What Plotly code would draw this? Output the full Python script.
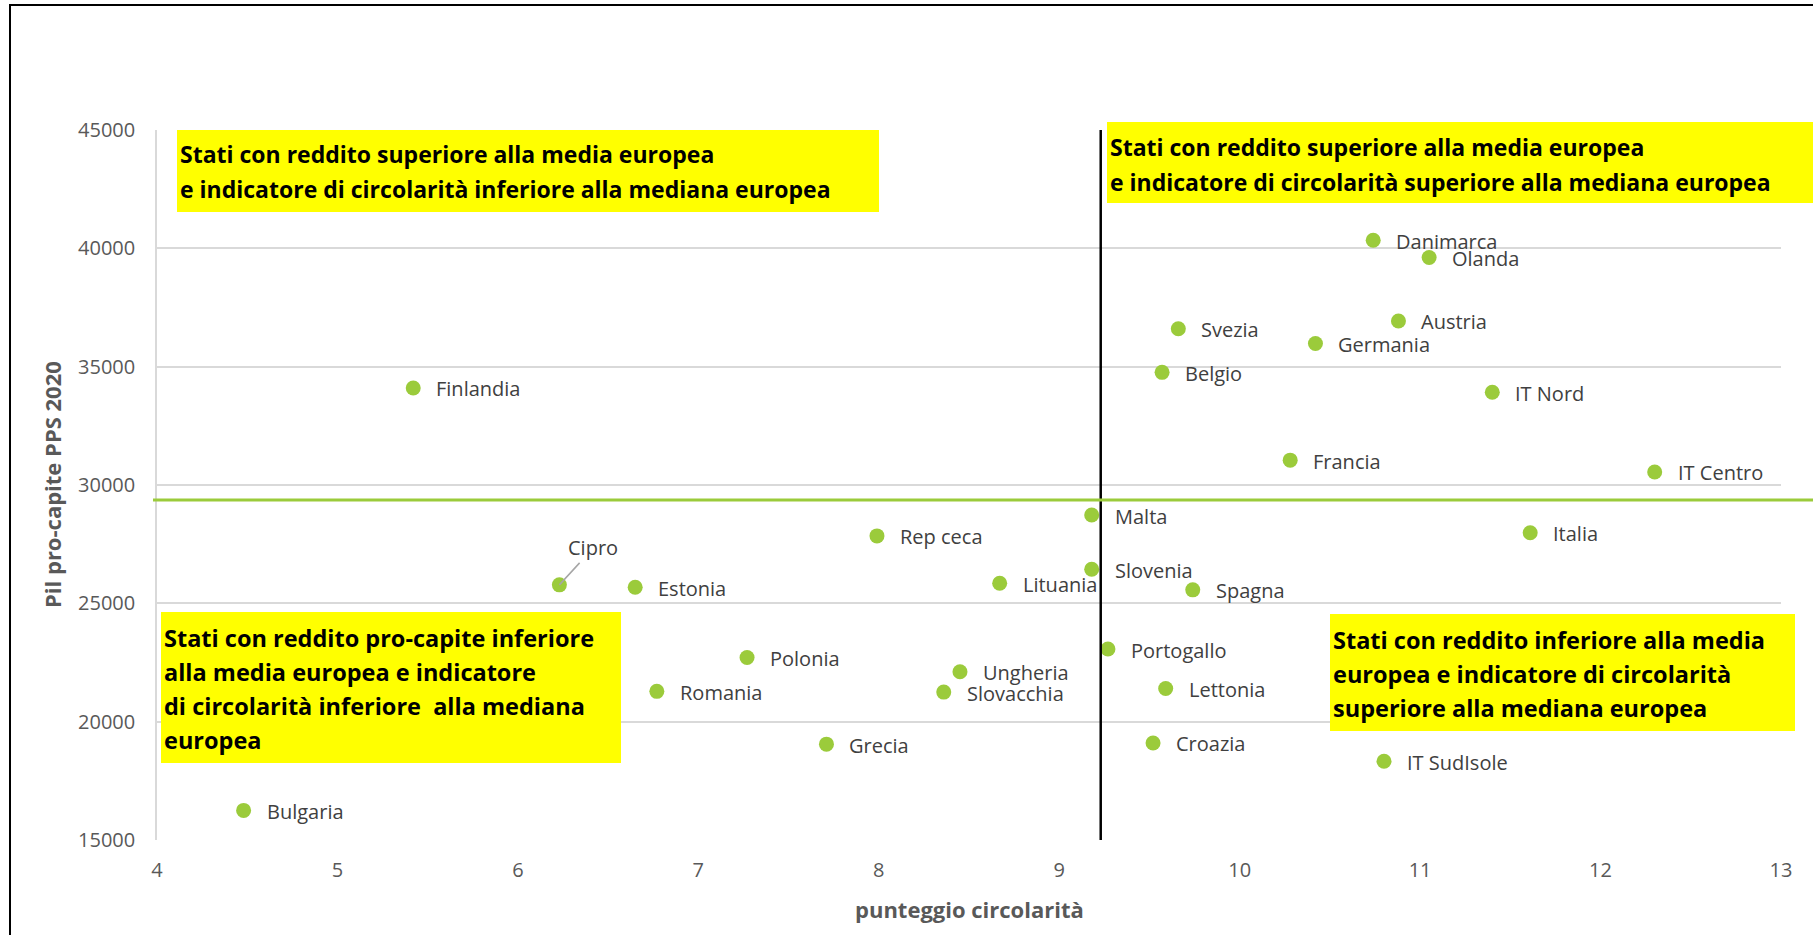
import plotly.graph_objects as go

# ---------------- data ----------------
countries = ["Danimarca", "Olanda", "Austria", "Svezia", "Germania", "Belgio", "IT Nord",
             "Finlandia", "Francia", "IT Centro", "Malta", "Italia", "Rep ceca", "Slovenia",
             "Cipro", "Estonia", "Lituania", "Spagna", "Portogallo", "Polonia", "Ungheria",
             "Romania", "Slovacchia", "Lettonia", "Grecia", "Croazia", "IT SudIsole", "Bulgaria"]
circolarita = [10.74, 11.05, 10.88, 9.66, 10.42, 9.57, 11.40,
               5.42, 10.28, 12.30, 9.18, 11.61, 7.99, 9.18,
               6.23, 6.65, 8.67, 9.74, 9.27, 7.27, 8.45,
               6.77, 8.36, 9.59, 7.71, 9.52, 10.80, 4.48]
pil = [40340, 39610, 36930, 36600, 35980, 34760, 33920,
       34100, 31050, 30550, 28730, 27980, 27850, 26440,
       25780, 25680, 25850, 25570, 23070, 22710, 22110,
       21280, 21250, 21400, 19050, 19100, 18330, 16250]

mediana_circolarita = 9.23
media_pil = 29370

x_ticks = [4, 5, 6, 7, 8, 9, 10, 11, 12, 13]
y_ticks = [15000, 20000, 25000, 30000, 35000, 40000, 45000]

box_top_left = ["Stati con reddito superiore alla media europea",
                "e indicatore di circolarità inferiore alla mediana europea"]
box_top_right = ["Stati con reddito superiore alla media europea",
                 "e indicatore di circolarità superiore alla mediana europea"]
box_bottom_left = ["Stati con reddito pro-capite inferiore",
                   "alla media europea e indicatore",
                   "di circolarità inferiore  alla mediana",
                   "europea"]
box_bottom_right = ["Stati con reddito inferiore alla media",
                    "europea e indicatore di circolarità",
                    "superiore alla mediana europea"]

# ---------------- layout geometry ----------------
FW, FH = 1813, 935
ML, MR, MT, MB = 157, 32, 130, 95
PW = FW - ML - MR
PH = FH - MT - MB
X_RANGE = [x_ticks[0], x_ticks[-1]]
Y_RANGE = [y_ticks[0], y_ticks[-1]]


def px_x(px):
    return (px - ML) / PW


def px_y(py):
    return (FH - MB - py) / PH


GREEN = "#9BCB3B"
LABEL_COL = "#404040"
AXIS_COL = "#595959"
GRID_COL = "#D9D9D9"
YELLOW = "#FFFF00"
FONT = "Open Sans, Noto Sans, DejaVu Sans, sans-serif"

fig = go.Figure()
fig.add_trace(go.Scatter(
    x=circolarita, y=pil, mode="markers",
    marker=dict(size=15, color=GREEN, line=dict(width=0)),
    cliponaxis=False, hoverinfo="text", text=countries, showlegend=False,
))

annotations = []
for name, xv, yv in zip(countries, circolarita, pil):
    if name == "Cipro":
        annotations.append(dict(
            x=xv, y=yv, xref="x", yref="y", text=name, showarrow=True,
            arrowhead=0, arrowwidth=1.5, arrowcolor="#A6A6A6", ax=34, ay=-37,
            standoff=0, font=dict(family=FONT, size=20, color=LABEL_COL)))
    else:
        annotations.append(dict(
            x=xv, y=yv, xref="x", yref="y", text=name, showarrow=False,
            xanchor="left", yanchor="middle", xshift=21, yshift=-1,
            font=dict(family=FONT, size=20, color=LABEL_COL)))

shapes = []


def add_box(x0, y0, x1, y1, lines, tx, line_ys, size=23):
    shapes.append(dict(type="rect", xref="paper", yref="paper",
                       x0=px_x(x0), x1=px_x(x1), y0=px_y(y1), y1=px_y(y0),
                       fillcolor=YELLOW, line=dict(width=0), layer="above"))
    for line, ly in zip(lines, line_ys):
        annotations.append(dict(
            x=px_x(tx), y=px_y(ly), xref="paper", yref="paper", text="<b>" + line + "</b>",
            showarrow=False, xanchor="left", yanchor="middle",
            font=dict(family=FONT, size=size, color="#000000")))


add_box(177, 130, 879, 212, box_top_left, 178, [154, 189])
add_box(1107, 122, 1813, 203, box_top_right, 1108, [147, 182])
add_box(161, 612, 621, 763, box_bottom_left, 162, [638, 672, 706, 740], size=23.5)
add_box(1330, 614, 1795, 731, box_bottom_right, 1331, [640, 674, 708], size=23.5)

# median line (vertical, black)
shapes.append(dict(type="line", xref="x", yref="y",
                   x0=mediana_circolarita, x1=mediana_circolarita,
                   y0=Y_RANGE[0], y1=Y_RANGE[1],
                   line=dict(color="#000000", width=2.5), layer="above"))
# average line (horizontal, green) extending to the right edge
ymid = (media_pil - Y_RANGE[0]) / (Y_RANGE[1] - Y_RANGE[0])
shapes.append(dict(type="line", xref="paper", yref="paper",
                   x0=px_x(153), x1=px_x(FW + 5), y0=ymid, y1=ymid,
                   line=dict(color=GREEN, width=3), layer="above"))
# outer chart border
shapes.append(dict(type="rect", xref="paper", yref="paper",
                   x0=px_x(10), x1=px_x(FW + 20), y0=px_y(FH + 20), y1=px_y(5),
                   line=dict(color="#000000", width=2), fillcolor="rgba(0,0,0,0)", layer="above"))

# axis titles
annotations.append(dict(x=0.5, y=px_y(909), xref="paper", yref="paper",
                        text="<b>punteggio circolarità</b>", showarrow=False,
                        xanchor="center", yanchor="middle",
                        font=dict(family=FONT, size=22, color=AXIS_COL)))
annotations.append(dict(x=px_x(52), y=0.5, xref="paper", yref="paper",
                        text="<b>Pil pro-capite PPS 2020</b>", showarrow=False,
                        textangle=-90, xanchor="center", yanchor="middle",
                        font=dict(family=FONT, size=22, color=AXIS_COL)))

fig.update_layout(
    width=FW, height=FH,
    margin=dict(l=ML, r=MR, t=MT, b=MB, autoexpand=False),
    paper_bgcolor="#FFFFFF", plot_bgcolor="#FFFFFF",
    showlegend=False,
    xaxis=dict(range=X_RANGE, tickvals=x_ticks, ticktext=[str(v) for v in x_ticks],
               showgrid=False, zeroline=False, showline=False,
               ticks="outside", ticklen=12, tickcolor="rgba(0,0,0,0)",
               tickfont=dict(family=FONT, size=20, color=AXIS_COL)),
    yaxis=dict(range=Y_RANGE, tickvals=y_ticks, ticktext=[str(v) for v in y_ticks],
               showgrid=True, gridcolor=GRID_COL, gridwidth=1.5, zeroline=False,
               showline=True, linecolor=GRID_COL, linewidth=1.5,
               ticks="outside", ticklen=16, tickcolor="rgba(0,0,0,0)",
               tickfont=dict(family=FONT, size=20, color=AXIS_COL)),
    annotations=annotations,
    shapes=shapes,
)

fig.write_html("out.html")
